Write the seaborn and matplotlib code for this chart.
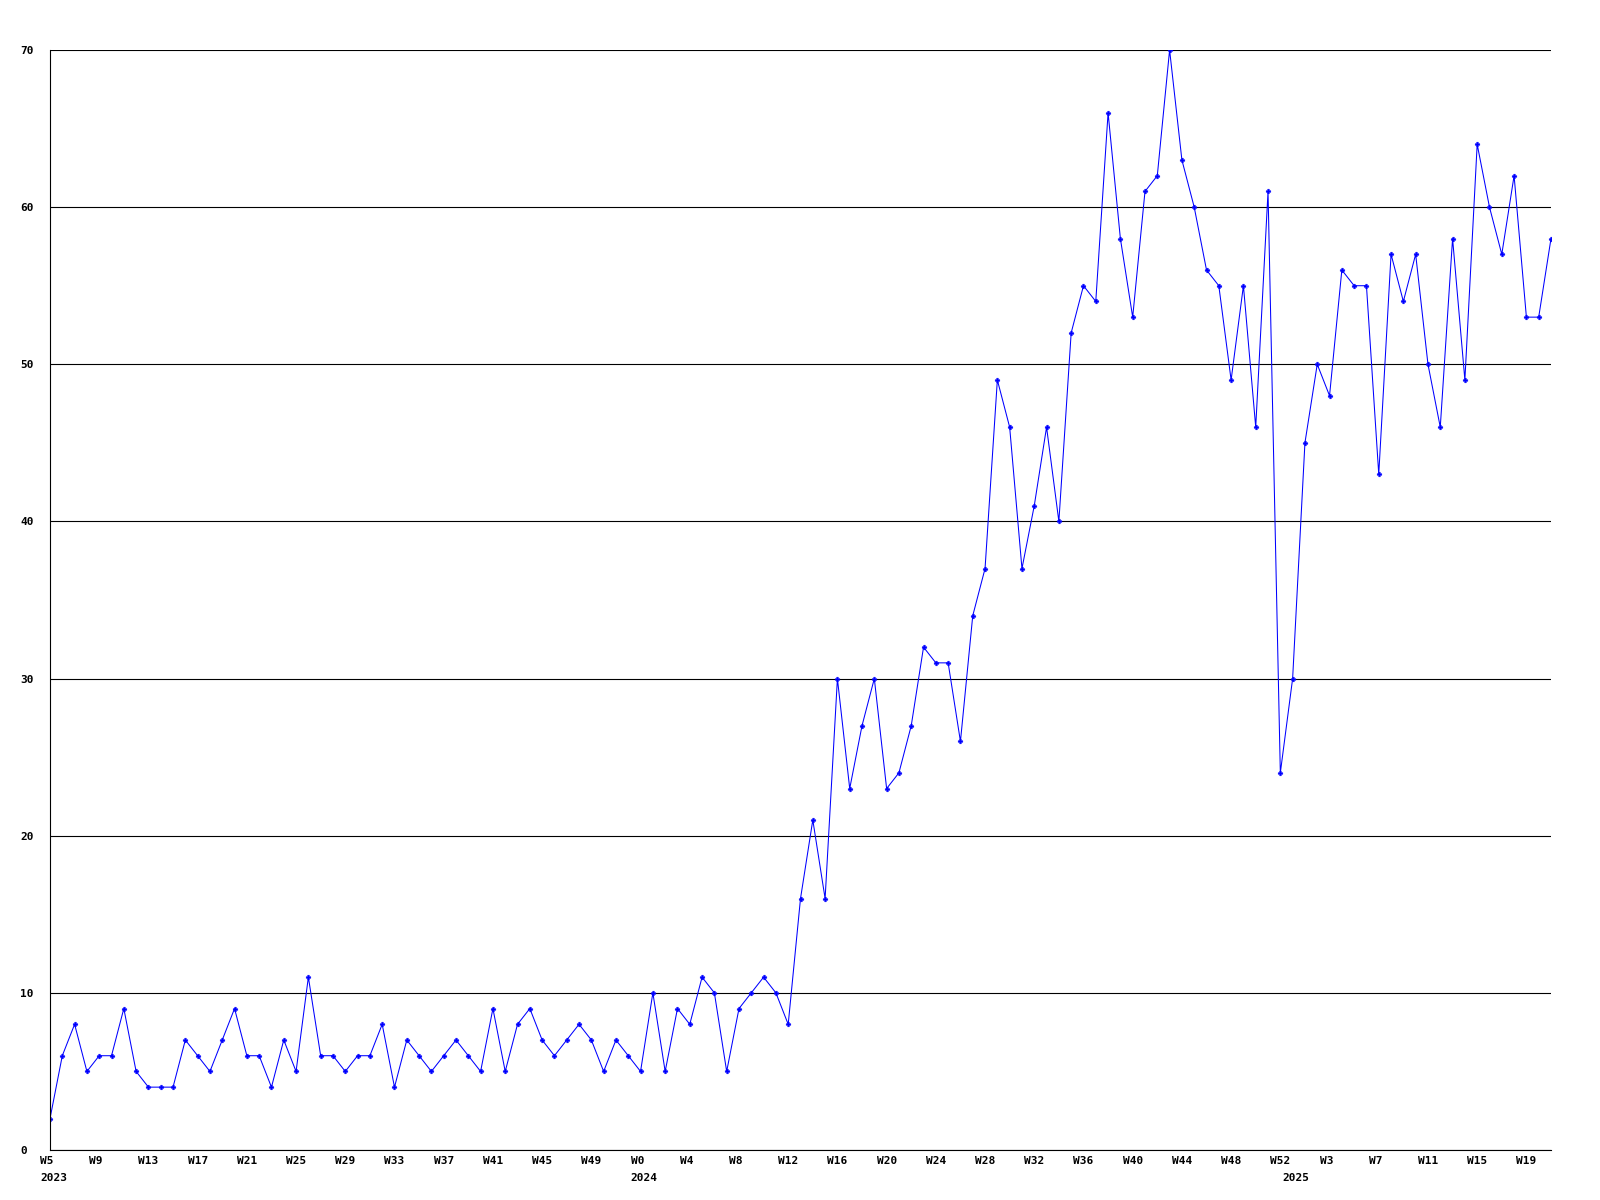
#!/usr/bin/env python3
"""Weekly count line chart, 2023 W5 to 2025 W21."""

from __future__ import annotations

import matplotlib

matplotlib.use("Agg")
import matplotlib.pyplot as plt
import matplotlib.transforms as mtransforms
import pandas as pd
import seaborn as sns


YEARS = [2023, 2024, 2025]
FIRST_WEEKS = [5, 0, 0]
VALUES_2023 = [
    2, 6, 8, 5, 6, 6, 9, 5, 4, 4, 4, 7, 6, 5, 7, 9, 6, 6, 4, 7, 5, 11, 6, 6,
    5, 6, 6, 8, 4, 7, 6, 5, 6, 7, 6, 5, 9, 5, 8, 9, 7, 6, 7, 8, 7, 5, 7, 6,
]
VALUES_2024 = [
    5, 10, 5, 9, 8, 11, 10, 5, 9, 10, 11, 10, 8, 16, 21, 16, 30, 23, 27, 30,
    23, 24, 27, 32, 31, 31, 26, 34, 37, 49, 46, 37, 41, 46, 40, 52, 55, 54,
    66, 58, 53, 61, 62, 70, 63, 60, 56, 55, 49, 55, 46, 61, 24,
]
VALUES_2025 = [
    30, 45, 50, 48, 56, 55, 55, 43, 57, 54, 57, 50, 46, 58, 49, 64, 60, 57,
    62, 53, 53, 58,
]
Y_TICKS = [0, 10, 20, 30, 40, 50, 60, 70]
TICK_STEP = 4

LINE_COLOR = "#0000FF"
FONT = "DejaVu Sans Mono"


def build_frame() -> pd.DataFrame:
    rows = []
    for year, first, values in zip(YEARS, FIRST_WEEKS, [VALUES_2023, VALUES_2024, VALUES_2025]):
        for offset, value in enumerate(values):
            rows.append({"year": year, "week": first + offset, "count": value})
    frame = pd.DataFrame(rows)
    frame["pos"] = range(len(frame))
    return frame


def configure_style() -> None:
    sns.set_theme(style="white", rc={"figure.facecolor": "white", "axes.facecolor": "white"})
    plt.rcParams["font.family"] = [FONT, "DejaVu Sans"]
    plt.rcParams["font.weight"] = "bold"
    plt.rcParams["font.size"] = 8


def main() -> None:
    configure_style()
    frame = build_frame()

    fig = plt.figure(figsize=(16, 12), dpi=100)
    ax = fig.add_axes([50 / 1600, 50 / 1200, 1501 / 1600, 1100 / 1200])
    sns.lineplot(
        data=frame,
        x="pos",
        y="count",
        color=LINE_COLOR,
        linewidth=0.75,
        marker="P",
        markersize=3.4,
        markeredgecolor=LINE_COLOR,
        markeredgewidth=0.3,
        ax=ax,
    )

    ax.set_xlim(0, len(frame) - 1)
    ax.set_ylim(Y_TICKS[0], Y_TICKS[-1])
    ax.set_xlabel("")
    ax.set_ylabel("")

    # horizontal black grid, left + bottom axis only
    ax.set_yticks(Y_TICKS)
    ax.yaxis.grid(True, color="black", linewidth=0.8)
    ax.xaxis.grid(False)
    for side in ["top", "right"]:
        ax.spines[side].set_visible(False)
    for side in ["left", "bottom"]:
        ax.spines[side].set_color("black")
        ax.spines[side].set_linewidth(0.8)
    ax.set_axisbelow(True)

    ax.tick_params(axis="y", length=0, pad=21.6, labelsize=8, colors="black")
    for label in ax.get_yticklabels():
        label.set_horizontalalignment("left")

    ticks = frame.iloc[::TICK_STEP]
    ax.set_xticks(ticks["pos"].tolist())
    ax.set_xticklabels([f"W{week}" for week in ticks["week"]])
    ax.tick_params(axis="x", length=0, pad=4.0, labelsize=8, colors="black")
    shift = mtransforms.ScaledTranslation(-10 / 100, 0, fig.dpi_scale_trans)
    for label in ax.get_xticklabels():
        label.set_horizontalalignment("left")
        label.set_transform(label.get_transform() + shift)

    # year under the first week of each year
    starts = frame.groupby("year", as_index=False)["pos"].min()
    for year, pos in zip(starts["year"], starts["pos"]):
        ax.annotate(
            str(year),
            xy=(pos, 0),
            xycoords=("data", "axes fraction"),
            xytext=(-7.2, -16.5),
            textcoords="offset points",
            ha="left",
            va="top",
            fontsize=8,
            fontweight="bold",
            color="black",
        )

    fig.savefig("out.png", dpi=100, facecolor="white")
    plt.close(fig)


if __name__ == "__main__":
    main()
